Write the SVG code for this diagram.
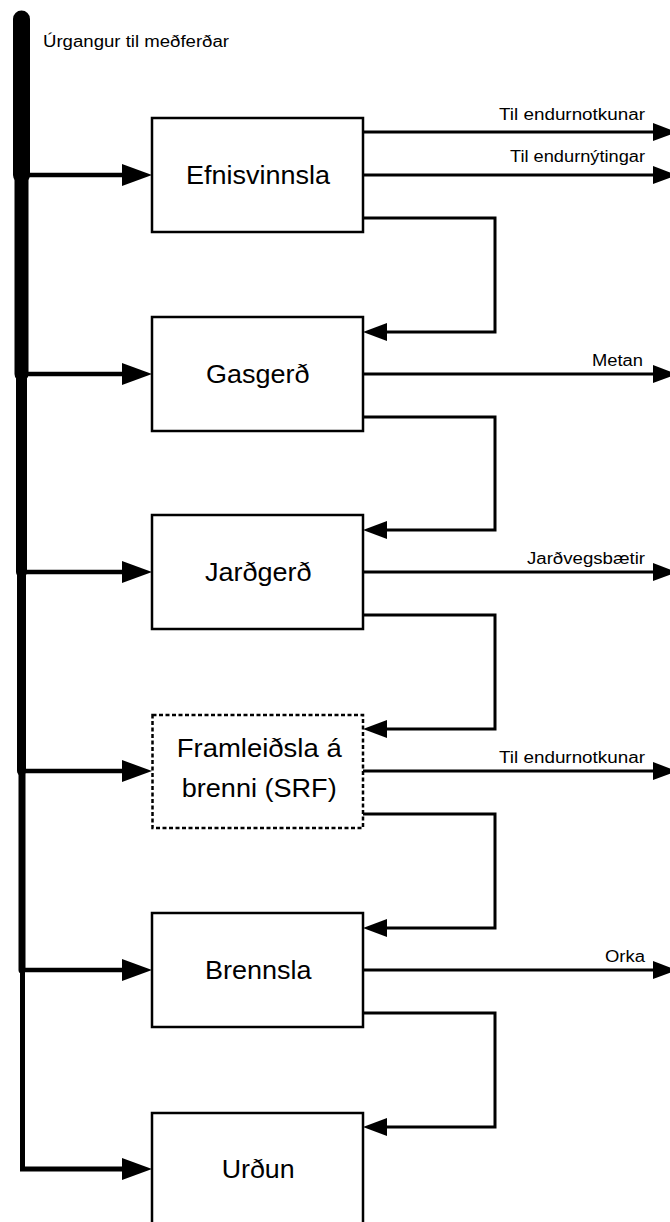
<svg xmlns="http://www.w3.org/2000/svg" width="670" height="1222" viewBox="0 0 670 1222">
<style>
  .box{fill:#fff;stroke:#000;stroke-width:2.5}
  .dash{stroke-dasharray:4,2.5}
  .lbl{font-family:"Liberation Sans",Arial,sans-serif;font-size:26px;fill:#000}
  .sm{font-family:"Liberation Sans",Arial,sans-serif;font-size:16px;fill:#000}
  .trunk{fill:none;stroke:#000;stroke-linecap:round}
  .branch{fill:none;stroke:#000;stroke-width:4.5}
  .fb{fill:none;stroke:#000;stroke-width:3}
  .out{fill:none;stroke:#000;stroke-width:3}
</style>
<defs>
  <marker id="ab" markerUnits="userSpaceOnUse" markerWidth="31" markerHeight="23" refX="0" refY="11" orient="auto" overflow="visible">
    <path d="M0,0 L30,11 L0,22 Z" fill="#000"/>
  </marker>
  <marker id="af" markerUnits="userSpaceOnUse" markerWidth="25" markerHeight="19" refX="0" refY="9" orient="auto" overflow="visible">
    <path d="M0,0 L24,9 L0,18 Z" fill="#000"/>
  </marker>
</defs>

<g id="connectors">
  <path class="trunk" d="M21.5,19 V175" stroke-width="17"/>
  <path class="trunk" d="M21.5,175 V374" stroke-width="14"/>
  <path class="trunk" d="M21.5,374 V572" stroke-width="11"/>
  <path class="trunk" d="M21.5,572 V771" stroke-width="9"/>
  <path class="trunk" d="M22,771 V970" stroke-width="7"/>
  <path d="M22.5,970 V1169 H122" fill="none" stroke="#000" stroke-width="5" stroke-linejoin="miter" marker-end="url(#ab)"/>
  <path class="branch" d="M22,175 H122" marker-end="url(#ab)"/>
  <path class="branch" d="M22,374 H122" marker-end="url(#ab)"/>
  <path class="branch" d="M22,572 H122" marker-end="url(#ab)"/>
  <path class="branch" d="M22,771 H122" marker-end="url(#ab)"/>
  <path class="branch" d="M22,970 H122" marker-end="url(#ab)"/>
  <path class="fb" d="M363,218 H495 V332 H387" marker-end="url(#af)"/>
  <path class="fb" d="M363,417 H495 V530 H387" marker-end="url(#af)"/>
  <path class="fb" d="M363,615 H495 V729 H387" marker-end="url(#af)"/>
  <path class="fb" d="M363,814 H495 V928 H387" marker-end="url(#af)"/>
  <path class="fb" d="M363,1013 H495 V1127 H387" marker-end="url(#af)"/>
  <path class="out" d="M363,132 H653" marker-end="url(#af)"/>
  <path class="out" d="M363,175 H653" marker-end="url(#af)"/>
  <path class="out" d="M363,374 H653" marker-end="url(#af)"/>
  <path class="out" d="M363,572 H653" marker-end="url(#af)"/>
  <path class="out" d="M363,771 H653" marker-end="url(#af)"/>
  <path class="out" d="M363,970 H653" marker-end="url(#af)"/>
  <text class="sm" x="43" y="47" textLength="186" lengthAdjust="spacingAndGlyphs">Úrgangur til meðferðar</text>
  <text class="sm" x="499" y="120" textLength="146" lengthAdjust="spacingAndGlyphs">Til endurnotkunar</text>
  <text class="sm" x="510" y="162" textLength="135" lengthAdjust="spacingAndGlyphs">Til endurnýtingar</text>
  <text class="sm" x="592" y="366" textLength="51" lengthAdjust="spacingAndGlyphs">Metan</text>
  <text class="sm" x="527" y="564" textLength="118" lengthAdjust="spacingAndGlyphs">Jarðvegsbætir</text>
  <text class="sm" x="499" y="763" textLength="146" lengthAdjust="spacingAndGlyphs">Til endurnotkunar</text>
  <text class="sm" x="605" y="962" textLength="40" lengthAdjust="spacingAndGlyphs">Orka</text>
</g>

<g id="efnisvinnsla">
  <rect class="box" x="152" y="118" width="211" height="114"/>
  <text class="lbl" x="186" y="184" textLength="144" lengthAdjust="spacingAndGlyphs">Efnisvinnsla</text>
</g>
<g id="gasgerd">
  <rect class="box" x="152" y="317" width="211" height="114"/>
  <text class="lbl" x="206" y="383" textLength="103.5" lengthAdjust="spacingAndGlyphs">Gasgerð</text>
</g>
<g id="jardgerd">
  <rect class="box" x="152" y="515" width="211" height="114"/>
  <text class="lbl" x="205" y="581" textLength="106.5" lengthAdjust="spacingAndGlyphs">Jarðgerð</text>
</g>
<g id="srf">
  <rect class="box dash" x="152.5" y="715" width="210.5" height="113"/>
  <text class="lbl" x="176.7" y="757" textLength="165" lengthAdjust="spacingAndGlyphs">Framleiðsla á</text>
  <text class="lbl" x="181.7" y="797" textLength="155" lengthAdjust="spacingAndGlyphs">brenni (SRF)</text>
</g>
<g id="brennsla">
  <rect class="box" x="152" y="913" width="211" height="114"/>
  <text class="lbl" x="205" y="979" textLength="106.5" lengthAdjust="spacingAndGlyphs">Brennsla</text>
</g>
<g id="urdun">
  <rect class="box" x="152" y="1113" width="211" height="120"/>
  <text class="lbl" x="221.7" y="1178" textLength="73" lengthAdjust="spacingAndGlyphs">Urðun</text>
</g>
</svg>
